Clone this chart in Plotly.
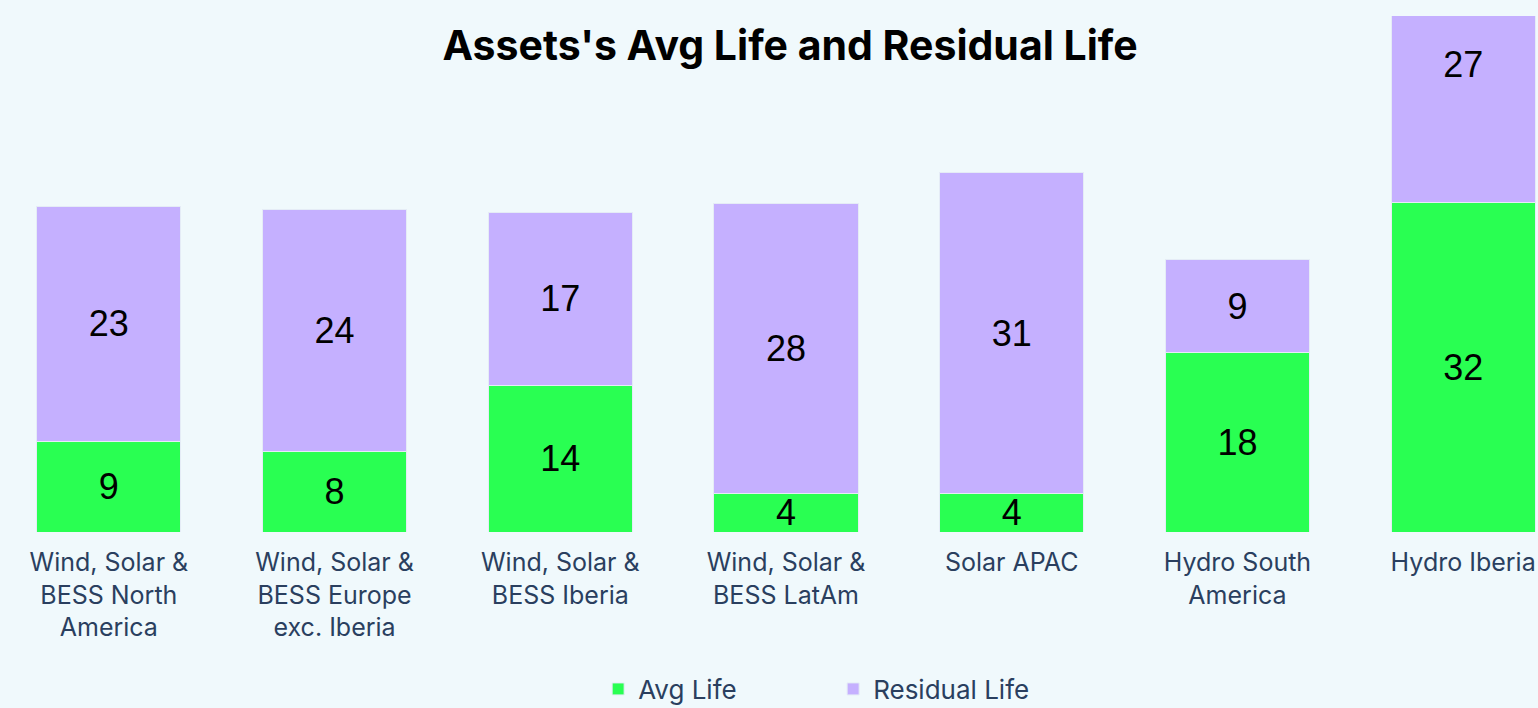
import plotly.graph_objects as go

categories = [
    "Wind, Solar &<br>BESS North<br>America",
    "Wind, Solar &<br>BESS Europe<br>exc. Iberia",
    "Wind, Solar &<br>BESS Iberia",
    "Wind, Solar &<br>BESS LatAm",
    "Solar APAC",
    "Hydro South<br>America",
    "Hydro Iberia",
]
avg_life = [8.9, 7.9, 14.4, 3.8, 3.8, 17.6, 32.3]
residual_life = [23.0, 23.7, 16.9, 28.4, 31.4, 9.1, 27.0]

GREEN = "#29FF52"
PURPLE = "#C5B0FF"
BG = "#F0F9FC"
TICK = "#2A3F5F"

fig = go.Figure()
fig.add_trace(go.Bar(
    x=categories, y=avg_life, name="Avg Life",
    marker=dict(color=GREEN, line=dict(color="#E5ECF6", width=1)),
    texttemplate="%{y:.0f}", textposition="inside", insidetextanchor="middle",
    textangle=0, constraintext="none",
    textfont=dict(family="Liberation Sans, Arial", size=36, color="black"),
))
fig.add_trace(go.Bar(
    x=categories, y=residual_life, name="Residual Life",
    marker=dict(color=PURPLE, line=dict(color="#E5ECF6", width=1)),
    texttemplate="%{y:.0f}", textposition="inside", insidetextanchor="middle",
    textangle=0, constraintext="none",
    textfont=dict(family="Liberation Sans, Arial", size=36, color="black"),
))

fig.update_layout(
    barmode="stack",
    bargap=0.361,
    width=1538, height=708,
    margin=dict(l=0, r=0, t=16, b=176, pad=0, autoexpand=False),
    paper_bgcolor=BG, plot_bgcolor=BG,
    title=dict(
        text="<b>Assets's Avg Life and Residual Life</b>",
        font=dict(family="Inter", size=41, color="black"),
        x=0.5137, xanchor="center", xref="paper",
        y=0.936, yanchor="middle", yref="container",
    ),
    xaxis=dict(
        type="category", range=[-0.4822, 6.3315], automargin=False,
        showgrid=False, showline=False, zeroline=False, ticks="",
        ticklabelstandoff=13,
        tickfont=dict(family="Inter", size=25, color=TICK),
    ),
    yaxis=dict(
        range=[0, 50.59], visible=False, showgrid=False, zeroline=False,
        automargin=False,
    ),
    legend=dict(
        orientation="h", x=0.5417, xanchor="center", y=-0.3043, yanchor="middle",
        font=dict(family="Inter", size=26, color=TICK),
        bgcolor="rgba(0,0,0,0)", traceorder="normal",
        entrywidth=190,
    ),
    showlegend=True,
)

fig.write_html(
    "out.html",
    config={"displayModeBar": False},
    post_script="document.body.style.margin='0';document.body.style.background='#F0F9FC';",
)
